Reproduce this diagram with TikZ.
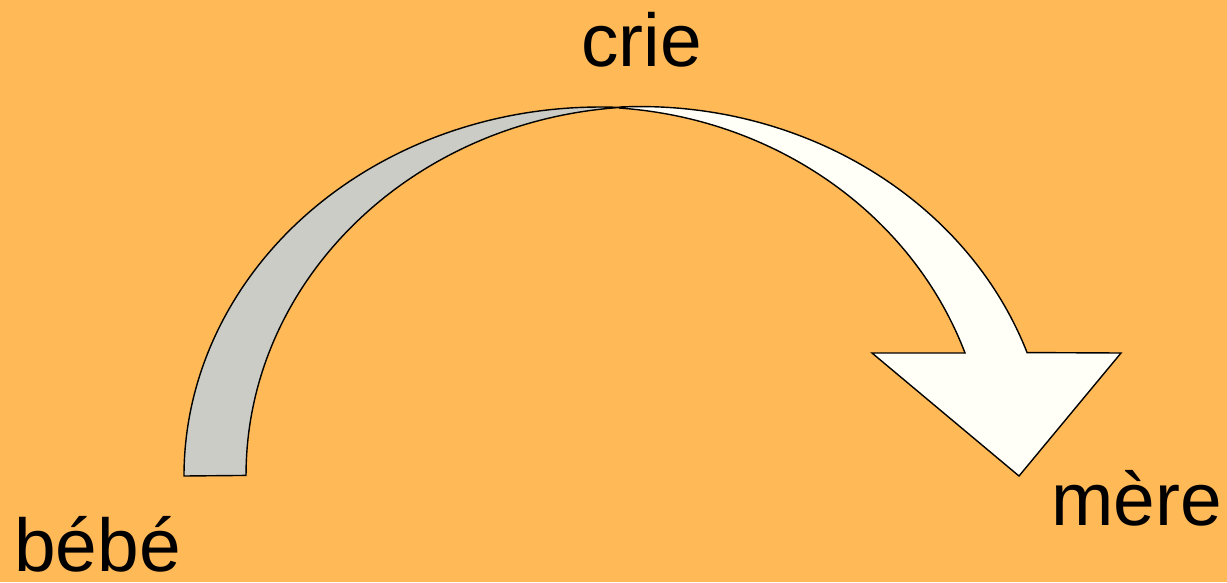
\documentclass[tikz,border=0pt]{standalone}
\usepackage{fontspec}
\setmainfont{Liberation Sans}
\usepackage{xcolor}
\definecolor{BGOrange} {HTML}{FFB957}
\definecolor{ArrowGray}{HTML}{CBCCC6}
\definecolor{ArrowFace}{HTML}{FFFFF8}
\tikzset{
  wordlabel/.style={anchor=base west,inner sep=0pt,text=black,
    font=\fontsize{42.6}{48}\selectfont},
  arrowedge/.style={draw=black,line width=0.8pt,line join=miter}
}

\begin{document}
\begin{tikzpicture}[x=0.02cm,y=-0.02cm]
    % Background
    \fill[BGOrange] (0,0) rectangle (1227,582);
    \useasboundingbox (0,0) rectangle (1227,582);
    % Back of the curved arrow
    \draw[arrowedge,fill=ArrowGray] (184,476)
      arc[start angle=180,end angle=272.76,x radius=416,y radius=369]
      arc[start angle=265.74,end angle=180,x radius=404,y radius=369]
      -- cycle;
    % Front of the curved arrow with head
    \draw[arrowedge,fill=ArrowFace] (620,107)
      arc[start angle=267.2,end angle=340.53,x radius=410.5,y radius=369]
      -- (1121,353) -- (1019,476) -- (872,353) -- (965,353)
      arc[start angle=340.53,end angle=274.32,x radius=398,y radius=369]
      -- cycle;
    % Words
    \node[wordlabel] (crie) at (581,66)  {crie};
    \node[wordlabel] (bebe) at (14,571)  {bébé};
    \node[wordlabel] (mere) at (1051,525) {mère};
\end{tikzpicture}
\end{document}
